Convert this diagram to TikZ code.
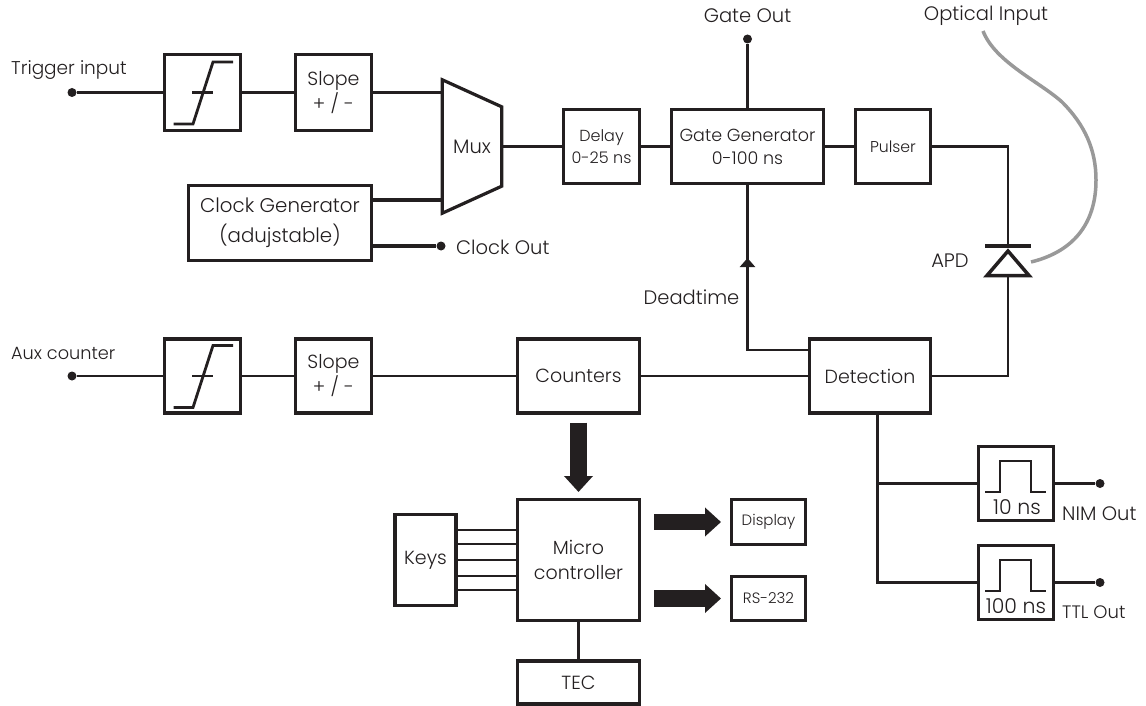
\documentclass[tikz,border=0pt]{standalone}
\usepackage{fontspec}
\setmainfont{Poppins}[UprightFont=* Light]
\usetikzlibrary{arrows.meta, calc, positioning}
\definecolor{ink}{HTML}{231F20}
\tikzset{
  blk/.style={rectangle,draw=ink,line width=3.2pt,outer sep=0pt,inner sep=0pt,align=center,text=ink,
    font=\fontsize{19}{25}\selectfont,minimum width=#1},
  blk/.default=76pt,
  txt/.style={inner sep=0pt,text=ink,font=\fontsize{19.5}{20}\selectfont},
  wire/.style={draw=ink,line width=2.8pt},
  wirethick/.style={draw=ink,line width=3.8pt},
  sym/.style={draw=ink,line width=2.8pt,miter limit=2},
  dot/.style={circle,fill=ink,inner sep=0pt,minimum size=9pt},
  bigarrow/.style={draw=ink,line width=16.5pt,-{Triangle[length=16pt,width=28pt,fill=ink]}}
}

\begin{document}
\begin{tikzpicture}[x=1pt,y=-1pt]
\useasboundingbox (0,0) rectangle (1146,706);

% trigger row
\node[dot] (trigin) at (72,92.5) {};
\node[txt, anchor=west, font=\fontsize{18.5}{20}\selectfont] (trigtxt) at (11,70) {Trigger input};
\node[blk, minimum height=76pt] (cmpa) at (202.5,92.5) {};
\node[blk, minimum height=76pt, right=55pt of cmpa] (slopea) {Slope\\+ / -};
\node[inner sep=0pt, minimum width=59pt, minimum height=133pt, text=ink, font=\fontsize{19.5}{20}\selectfont] (mux) at (472,146.5) {Mux};
\node[blk, minimum height=74pt, font=\fontsize{16}{22}\selectfont] (delay) at (601.5,146.5) {Delay\\0-25 ns};
\node[blk=152pt, minimum height=74pt, font=\fontsize{17.5}{23}\selectfont, right=32pt of delay] (gate) {Gate Generator\\0-100 ns};
\node[blk=75pt, minimum height=74pt, font=\fontsize{15.7}{20}\selectfont, right=32pt of gate] (pulser) {Pulser};
\node[blk=183pt, minimum height=75pt, font=\fontsize{19.8}{30}\selectfont] (clock) at (280,223) {Clock Generator\\(adujstable)};
\node[dot] (clkdot) at (441,246) {};
\node[txt, anchor=west] (clktxt) at (456,247) {Clock Out};
\node[dot] (gatedot) at (747.5,39) {};
\node[txt] (gatetxt) at (747.5,16) {Gate Out};
\node[txt] (opttxt) at (986,16) {Optical Input};

% aux row
\node[dot] (auxin) at (72,376) {};
\node[txt, anchor=west, font=\fontsize{17.7}{20}\selectfont] (auxtxt) at (11,353) {Aux counter};
\node[blk, minimum height=74pt] (cmpb) at (202.5,376) {};
\node[blk, minimum height=74pt, right=55pt of cmpb] (slopeb) {Slope\\+ / -};
\node[blk=122pt, minimum height=74pt] (counters) at (578.5,376) {Counters};
\node[blk=121pt, minimum height=74pt] (det) at (870,376) {Detection};
\node[txt] (dttxt) at (691.5,297) {Deadtime};
\node[txt] (apdtxt) at (950,261) {APD};

% controller
\node[blk=122pt, minimum height=121pt] (micro) at (578.5,560) {Micro\\controller};
\node[blk=61pt, minimum height=91pt, left=61.5pt of micro] (keys) {Keys};
\node[blk=122pt, minimum height=43pt, below=40.5pt of micro] (tec) {TEC};
\node[blk=74pt, minimum height=45pt, font=\fontsize{15}{20}\selectfont] (display) at (768.5,522) {Display};
\node[blk=74pt, minimum height=44pt, font=\fontsize{15}{20}\selectfont] (rs) at (768.5,598.5) {RS-232};

% pulse outputs
\node[blk=75pt, minimum height=74pt] (nim) at (1016,483.5) {};
\node[blk=75pt, minimum height=74pt] (ttl) at (1016,582.5) {};
\node[txt, font=\fontsize{20.5}{20}\selectfont] (nimns) at (1017,507) {10 ns};
\node[txt, font=\fontsize{20.5}{20}\selectfont] (ttlns) at (1016,606) {100 ns};
\node[dot] (nimdot) at (1100,483.5) {};
\node[dot] (ttldot) at (1100,582.5) {};
\node[txt, anchor=west] (nimtxt) at (1062,514) {NIM Out};
\node[txt, anchor=west, font=\fontsize{18}{20}\selectfont] (ttltxt) at (1062,612) {TTL Out};

% diode points
\coordinate (apdtop) at (1008,246);
\coordinate (apdbot) at (1008,277);
\coordinate (dtbend) at (747.5,350);
\coordinate (dthead) at (747.5,258);
\coordinate (clkin) at (442.5,200);
\coordinate (tap) at (877.5,483.5);
\coordinate (tapend) at (877.5,582.5);

% mux outline
\draw[sym, line width=3.2pt, miter limit=4] (mux.north west) -- ($(mux.north east)+(0,27)$) -- ($(mux.south east)+(0,-27)$) -- (mux.south west) -- cycle;

% apd
\draw[sym, line width=3.8pt] (985,246) -- (1031,246);
\draw[sym, line width=3.5pt, miter limit=4] (1008,251) -- (1029,275.5) -- (987,275.5) -- cycle;

% comparators
\foreach \n in {cmpa,cmpb}{
  \draw[sym] ($(\n)+(-29,31.5)$) -- ($(\n)+(-9.5,31.5)$) -- ($(\n)+(10.5,-30.5)$) -- ($(\n)+(30.5,-30.5)$);
  \draw[sym] ($(\n)+(-10.5,0)$) -- ($(\n)+(10.5,0)$);
}
% pulses
\foreach \n in {nim,ttl}{
  \draw[sym, line width=2pt] ($(\n)+(-31,8)$) -- ($(\n)+(-16,8)$) -- ($(\n)+(-16,-23)$) -- ($(\n)+(15,-23)$) -- ($(\n)+(15,8)$) -- ($(\n)+(30,8)$);
}

% connectors
\draw[wire] (trigin) -- (cmpa);
\draw[wire] (cmpa) -- (slopea);
\draw[wire] (slopea.east) -- (slopea.east -| mux.west);
\draw[wirethick] (clock.east |- clkin) -- (clkin);
\draw[wirethick] (clock.east |- clkdot) -- (clkdot);
\draw[wire] (mux.east) -- (delay);
\draw[wire] (delay) -- (gate);
\draw[wire] (gate) -- (pulser);
\draw[wirethick, line width=3.2pt] (gate) -- (gatedot);
\draw[wire] (pulser.east) -| (apdtop);
\draw[wire] (det.east) -| (apdbot);
\draw[wire] (gate.south) -- (dtbend) -- (dtbend -| det.west);
\draw[wire, -{Triangle[length=9pt,width=15pt,fill=ink]}] (dtbend) -- (dthead);
\draw[wire] (auxin) -- (cmpb);
\draw[wire] (cmpb) -- (slopeb);
\draw[wire] (slopeb) -- (counters);
\draw[wire] (counters) -- (det);
\draw[wire] (det.south -| tap) |- (nim.west);
\draw[wire] (tap) |- (ttl.west);
\draw[wire] (nim) -- (nimdot);
\draw[wirethick] (ttl) -- (ttldot);
\draw[wire] (micro) -- (tec);
\foreach \dy in {-30,-16,0,16,30}{
  \draw[wire] ($(keys.east)+(0,\dy)$) -- ($(keys.east -| micro.west)+(0,\dy)$);
}
\draw[bigarrow, shorten <=9.5pt, shorten >=7.5pt] (counters) -- (micro);
\draw[bigarrow, shorten <=14.5pt, shorten >=10.5pt] (display.west -| micro.east) -- (display.west);
\draw[bigarrow, shorten <=14.5pt, shorten >=10.5pt] (rs.west -| micro.east) -- (rs.west);

% fibre
\draw[draw=black!40, line width=3.5pt] (983,31) .. controls (995,62) and (1040,82) .. (1062,102) .. controls (1085,125) and (1096,150) .. (1096,180) .. controls (1096,225) and (1072,252) .. (1031,262);
\end{tikzpicture}
\end{document}
